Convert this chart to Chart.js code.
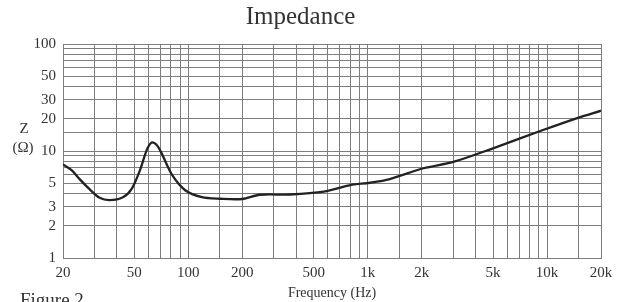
<!DOCTYPE html>
<html>
<head>
<meta charset="utf-8">
<script src="https://cdn.jsdelivr.net/npm/chart.js@4.4.0/dist/chart.umd.min.js"></script>
<style>
  html, body { margin: 0; padding: 0; background: #fff; }
  #wrap { width: 626px; height: 302px; }
</style>
</head>
<body>
<div id="wrap"><canvas id="impChart" width="626" height="302"></canvas></div>
<script>
// datos
const freqs = [20, 22.4, 24.9, 28.3, 32, 36.4, 43.2, 48.2, 53.7, 58.6, 62.5, 66.6, 71, 81, 96, 119, 150, 200, 250, 370, 570, 800, 1030, 1330, 2050, 3000, 5000, 9500, 14600, 20000];
const impedance = [7.5, 6.6, 5.4, 4.35, 3.66, 3.48, 3.7, 4.4, 6.6, 10.2, 12.0, 11.4, 9.5, 6.0, 4.3, 3.7, 3.58, 3.56, 3.9, 3.92, 4.17, 4.8, 5.05, 5.47, 6.9, 7.9, 10.6, 15.7, 20.2, 23.8];
const xTickLabels = [20, 50, 100, 200, 500, 1000, 2000, 5000, 10000, 20000];
const yTickLabels = [1, 2, 3, 5, 10, 20, 30, 50, 100];

const serif = 'Liberation Serif';
const textColor = '#333';

// texto extra: Z (Ω) y Figure 2
const extraText = {
  id: 'extraText',
  beforeDraw(chart) {
    const c = chart.ctx;
    c.save();
    c.fillStyle = '#fff';
    c.fillRect(0, 0, chart.width, chart.height);
    c.restore();
  },
  afterDraw(chart) {
    const c = chart.ctx;
    c.save();
    c.fillStyle = textColor;
    c.textAlign = 'center';
    c.textBaseline = 'middle';
    c.font = '15px "' + serif + '"';
    c.fillText('Z', 24, 129);
    c.fillText('(Ω)', 23, 148);
    c.textAlign = 'left';
    c.textBaseline = 'alphabetic';
    c.font = '19px "' + serif + '"';
    c.fillText('Figure 2', 20, 306);
    c.restore();
  }
};

const ctx = document.getElementById('impChart').getContext('2d');
const impChart = new Chart(ctx, {
  type: 'line',
  data: {
    datasets: [{
      data: freqs.map((f, i) => ({ x: f, y: impedance[i] })),
      borderColor: '#222',
      borderWidth: 2.3,
      pointRadius: 0,
      fill: false,
      tension: 0.3
    }]
  },
  options: {
    responsive: false,
    animation: false,
    layout: { padding: { left: 0, right: 25, top: 0, bottom: 0 } },
    plugins: {
      legend: { display: false },
      tooltip: { enabled: false },
      title: {
        display: true,
        text: 'Impedance',
        color: textColor,
        font: { family: serif, size: 25, weight: 'normal' },
        padding: { top: 2, bottom: 12 }
      }
    },
    scales: {
      x: {
        type: 'logarithmic',
        min: 20,
        max: 20000,
        grid: { color: '#7d7d7d', lineWidth: 1, drawTicks: false },
        border: { color: '#7d7d7d' },
        ticks: {
          autoSkip: false,
          maxRotation: 0,
          padding: 6,
          color: textColor,
          font: { family: serif, size: 15 },
          callback: function (value) {
            const v = Math.round(value);
            if (!xTickLabels.includes(v)) return '';
            return v >= 1000 ? (v / 1000) + 'k' : String(v);
          }
        },
        title: {
          display: true,
          text: 'Frequency (Hz)',
          color: textColor,
          font: { family: serif, size: 14 },
          padding: { top: 0, bottom: 0 }
        },
        afterFit: function (scale) { scale.height = 44; }
      },
      y: {
        type: 'logarithmic',
        min: 1,
        max: 100,
        grid: { color: '#7d7d7d', lineWidth: 1, drawTicks: false },
        border: { color: '#7d7d7d' },
        ticks: {
          autoSkip: false,
          padding: 7,
          color: textColor,
          font: { family: serif, size: 15 },
          callback: function (value) {
            const v = Math.round(value);
            return yTickLabels.includes(v) ? String(v) : '';
          }
        },
        afterFit: function (scale) { scale.width = 63; }
      }
    }
  },
  plugins: [extraText]
});
</script>
</body>
</html>
